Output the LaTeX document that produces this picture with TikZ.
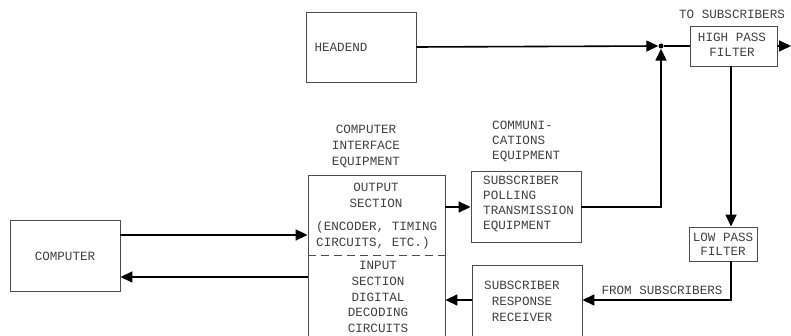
\documentclass[tikz,border=0pt]{standalone}
\usepackage{fontspec}
\setmainfont{Liberation Mono}
\usetikzlibrary{arrows.meta}
\begin{document}
\begin{tikzpicture}[x=1pt,y=-1pt,
 box/.style={draw=black!70,line width=0.9pt,inner sep=0pt,rectangle},
 conn/.style={line width=1.6pt,black},
 arr/.style={conn,-{Triangle[length=12pt,width=11pt]}},
 lbl/.style={text=black!75,font=\fontsize{12.6}{15.5}\selectfont,inner sep=0pt,align=center},
]
\useasboundingbox (0,0) rectangle (791,336);
\clip (0,0) rectangle (791,336);
% boxes
\node[box,minimum width=110pt,minimum height=70pt] (head) at (361,47) {};
\node[box,minimum width=87pt,minimum height=40pt] (hpf) at (733.5,46) {};
\node[box,minimum width=68pt,minimum height=34pt] (lpf) at (723,244) {};
\node[box,minimum width=110pt,minimum height=71pt] (spte) at (526,207) {};
\node[box,minimum width=137pt,minimum height=170pt] (cie) at (376.5,260) {};
\node[box,minimum width=110pt,minimum height=80pt] (srr) at (527,305) {};
\node[box,minimum width=110pt,minimum height=71pt] (comp) at (65,255.5) {};
\node[circle,fill=black,inner sep=0pt,minimum size=5pt] (dot) at (661,46) {};
% helper coordinates
\coordinate (vx) at (731,0);
\coordinate (fs) at (731,300);
\coordinate (cy1) at (0,235);
\coordinate (cy2) at (0,277);
\coordinate (dv) at (0,255);
\coordinate (out) at (791,46);
% divider
\draw[black!70,line width=0.9pt,dash pattern=on 8pt off 5pt] (cie.west |- dv) -- (cie.east |- dv);
% connectors
\draw[arr] (head.east) -- (dot.west);
\draw[conn] (dot) -- (hpf.west);
\draw[arr] (hpf.east) -- (out);
\draw[arr] (hpf.south -| vx) -- (lpf.north -| vx);
\draw[arr] (lpf.south -| vx) -- (fs) -- (srr.east |- fs);
\draw[arr] (srr.west |- fs) -- (cie.east |- fs);
\draw[arr] (cie.east |- spte) -- (spte.west);
\draw[arr] (spte.east) -- (spte.east -| dot) -- (dot.south);
\draw[arr] (comp.east |- cy1) -- (cie.west |- cy1);
\draw[arr] (cie.west |- cy2) -- (comp.east |- cy2);
% texts
\node[lbl] (thead) at (341,47) {HEADEND};
\node[lbl] (tcomp) at (65,256) {COMPUTER};
\node[lbl] (tto) at (732,14) {TO SUBSCRIBERS};
\node[lbl,font=\fontsize{12.6}{15}\selectfont] (thpf) at (732,45) {HIGH PASS\\FILTER};
\node[lbl,font=\fontsize{12.6}{14}\selectfont] (tlpf) at (723,244) {LOW PASS\\FILTER};
\node[lbl] (tfrom) at (662,290) {FROM SUBSCRIBERS};
\node[lbl,font=\fontsize{12.6}{16}\selectfont] (tcie) at (366,146) {COMPUTER\\INTERFACE\\EQUIPMENT};
\node[lbl,align=left,anchor=west,font=\fontsize{12.6}{15}\selectfont] (tcom) at (492,141) {COMMUNI-\\CATIONS\\EQUIPMENT};
\node[lbl,align=left,anchor=west,font=\fontsize{12.6}{15.3}\selectfont] (tspte) at (483,204) {SUBSCRIBER\\POLLING\\TRANSMISSION\\EQUIPMENT};
\node[lbl,font=\fontsize{12.6}{16}\selectfont] (tout) at (376,195) {OUTPUT\\SECTION};
\node[lbl,align=left,anchor=west] (tenc) at (316,235) {(ENCODER, TIMING\\CIRCUITS, ETC.)};
\node[lbl,font=\fontsize{12.6}{15.75}\selectfont] (tin) at (378,297) {INPUT\\SECTION\\DIGITAL\\DECODING\\CIRCUITS};
\node[lbl,font=\fontsize{12.6}{16}\selectfont] (tsrr) at (522,301) {SUBSCRIBER\\RESPONSE\\RECEIVER};
\end{tikzpicture}
\end{document}
